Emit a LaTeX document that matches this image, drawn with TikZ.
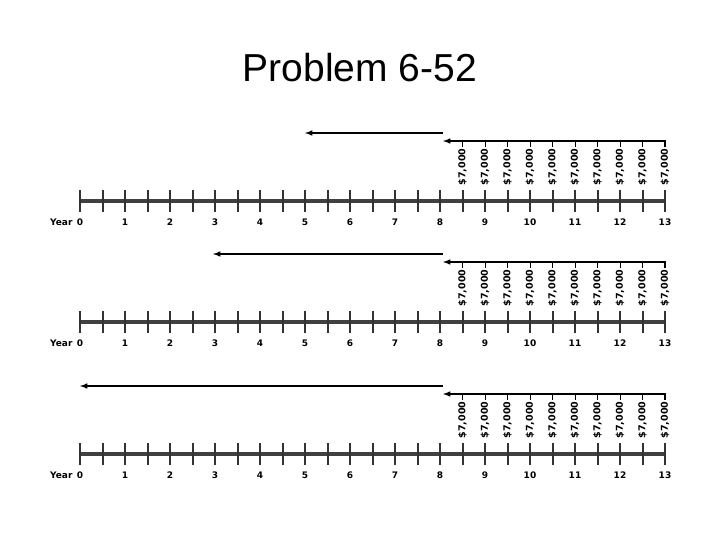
\documentclass[tikz,border=0pt]{standalone}
\usepackage{fontspec}
\setmainfont{Liberation Sans}
\newfontfamily\lab{DejaVu Sans}
\begin{document}
\begin{tikzpicture}[x=1pt,y=-1pt,
  axis/.style={line width=4pt,color=black!75},
  tk/.style={line width=2pt,color=black!80},
  yr/.style={font=\lab\bfseries\fontsize{9}{10}\selectfont},
  pay/.style={font=\lab\bfseries\fontsize{9.5}{10}\selectfont,rotate=90,inner sep=1pt},
  arr/.style={line width=1.5pt,-latex}]
\useasboundingbox (0,0) rectangle (720,540);
\node[font=\fontsize{39}{42}\selectfont] (title) at (360,68) {Problem 6-52};
\foreach \r/\ly/\fy in {1/201/305, 2/322/213, 3/454/80}{
  \coordinate (s\r) at (80,\ly);
  \coordinate (e\r) at (665,\ly);
  \draw[axis] (s\r) -- (e\r);
  \foreach \i in {0,...,26}{
    \draw[tk] (80+\i*22.5,\ly-11) -- (80+\i*22.5,\ly+11);
  }
  \node[yr,anchor=east] (yl\r) at (76,\ly+21) {Year};
  \foreach \n in {0,...,13}{
    \node[yr] (y\r-\n) at (80+\n*45,\ly+21) {\n};
  }
  \foreach \k in {17,...,26}{
    \node[pay] (p\r-\k) at (80+\k*22.5,\ly-34) {\$7,000};
    \draw[line width=1pt] (80+\k*22.5,\ly-60) -- (p\r-\k.east);
  }
  \coordinate (a\r) at (665,\ly-60);
  \coordinate (b\r) at (443,\ly-60);
  \draw[arr] (p\r-26.east) -- (a\r) -- (b\r);
  \coordinate (c\r) at (443,\ly-68);
  \coordinate (d\r) at (\fy,\ly-68);
  \draw[arr] (c\r) -- (d\r);
}
\end{tikzpicture}
\end{document}
